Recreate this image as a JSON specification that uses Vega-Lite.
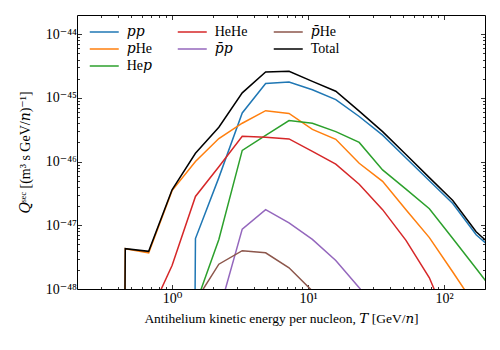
{
  "$schema": "https://vega.github.io/schema/vega-lite/v6.json",
  "width": 408,
  "height": 274,
  "autosize": {"type": "none"},
  "padding": {"left": 77, "top": 15, "right": 15, "bottom": 61},
  "background": "white",
  "config": {
    "font": "Liberation Serif, DejaVu Serif",
    "view": {"stroke": "black", "strokeWidth": 1},
    "axis": {"grid": false, "domain": false, "tickColor": "black", "tickWidth": 0.8, "labelColor": "black", "titleColor": "black", "labelFont": "Liberation Serif, DejaVu Serif", "titleFont": "Liberation Serif, DejaVu Serif", "titleFontWeight": "normal", "labelFontSize": 14, "titleFontSize": 13.5}
  },
  "data": {"values": [
    {"T": 1, "Q": 1e-100, "c": "pp"},
    {"T": 1.486, "Q": 6.2e-48, "c": "pp"},
    {"T": 2.208, "Q": 5.6e-47, "c": "pp"},
    {"T": 3.281, "Q": 5.8e-46, "c": "pp"},
    {"T": 4.875, "Q": 1.68e-45, "c": "pp"},
    {"T": 7.244, "Q": 1.78e-45, "c": "pp"},
    {"T": 10.76, "Q": 1.34e-45, "c": "pp"},
    {"T": 15.99, "Q": 9.4e-46, "c": "pp"},
    {"T": 23.77, "Q": 5.1e-46, "c": "pp"},
    {"T": 35.32, "Q": 2.6e-46, "c": "pp"},
    {"T": 52.48, "Q": 1.14e-46, "c": "pp"},
    {"T": 77.98, "Q": 5.0e-47, "c": "pp"},
    {"T": 115.9, "Q": 2.2e-47, "c": "pp"},
    {"T": 172.2, "Q": 7.1e-48, "c": "pp"},
    {"T": 255.9, "Q": 3.4e-48, "c": "pp"},

    {"T": 0.3048, "Q": 1e-100, "c": "pHe"},
    {"T": 0.4529, "Q": 4.3e-48, "c": "pHe"},
    {"T": 0.673, "Q": 3.7e-48, "c": "pHe"},
    {"T": 1, "Q": 3.5e-47, "c": "pHe"},
    {"T": 1.486, "Q": 1.0e-46, "c": "pHe"},
    {"T": 2.208, "Q": 2.3e-46, "c": "pHe"},
    {"T": 3.281, "Q": 4.0e-46, "c": "pHe"},
    {"T": 4.875, "Q": 6.3e-46, "c": "pHe"},
    {"T": 7.244, "Q": 5.7e-46, "c": "pHe"},
    {"T": 10.76, "Q": 3.2e-46, "c": "pHe"},
    {"T": 15.99, "Q": 2.24e-46, "c": "pHe"},
    {"T": 23.77, "Q": 9.4e-47, "c": "pHe"},
    {"T": 35.32, "Q": 4.9e-47, "c": "pHe"},
    {"T": 52.48, "Q": 1.76e-47, "c": "pHe"},
    {"T": 77.98, "Q": 6.4e-48, "c": "pHe"},
    {"T": 115.9, "Q": 1.85e-48, "c": "pHe"},
    {"T": 172.2, "Q": 5.2e-49, "c": "pHe"},
    {"T": 255.9, "Q": 1.5e-49, "c": "pHe"},

    {"T": 1.486, "Q": 5.6e-49, "c": "Hep"},
    {"T": 2.208, "Q": 6.0e-48, "c": "Hep"},
    {"T": 3.281, "Q": 1.5e-46, "c": "Hep"},
    {"T": 4.875, "Q": 2.57e-46, "c": "Hep"},
    {"T": 7.244, "Q": 4.4e-46, "c": "Hep"},
    {"T": 10.76, "Q": 4.0e-46, "c": "Hep"},
    {"T": 15.99, "Q": 2.95e-46, "c": "Hep"},
    {"T": 23.77, "Q": 2.0e-46, "c": "Hep"},
    {"T": 35.32, "Q": 7.4e-47, "c": "Hep"},
    {"T": 52.48, "Q": 3.7e-47, "c": "Hep"},
    {"T": 77.98, "Q": 1.82e-47, "c": "Hep"},
    {"T": 115.9, "Q": 6.2e-48, "c": "Hep"},
    {"T": 172.2, "Q": 2.1e-48, "c": "Hep"},
    {"T": 255.9, "Q": 7e-49, "c": "Hep"},

    {"T": 0.673, "Q": 3.7e-49, "c": "HeHe"},
    {"T": 1, "Q": 2.34e-48, "c": "HeHe"},
    {"T": 1.486, "Q": 2.84e-47, "c": "HeHe"},
    {"T": 2.208, "Q": 8.3e-47, "c": "HeHe"},
    {"T": 3.281, "Q": 2.5e-46, "c": "HeHe"},
    {"T": 4.875, "Q": 2.4e-46, "c": "HeHe"},
    {"T": 7.244, "Q": 2.27e-46, "c": "HeHe"},
    {"T": 10.76, "Q": 1.45e-46, "c": "HeHe"},
    {"T": 15.99, "Q": 9.1e-47, "c": "HeHe"},
    {"T": 23.77, "Q": 4.4e-47, "c": "HeHe"},
    {"T": 35.32, "Q": 1.76e-47, "c": "HeHe"},
    {"T": 52.48, "Q": 5.8e-48, "c": "HeHe"},
    {"T": 77.98, "Q": 1.5e-48, "c": "HeHe"},
    {"T": 115.9, "Q": 2e-49, "c": "HeHe"},

    {"T": 2.208, "Q": 4.3e-49, "c": "pbar-p"},
    {"T": 3.281, "Q": 8.7e-48, "c": "pbar-p"},
    {"T": 4.875, "Q": 1.76e-47, "c": "pbar-p"},
    {"T": 7.244, "Q": 1.09e-47, "c": "pbar-p"},
    {"T": 10.76, "Q": 6.0e-48, "c": "pbar-p"},
    {"T": 15.99, "Q": 2.8e-48, "c": "pbar-p"},
    {"T": 23.77, "Q": 1.05e-48, "c": "pbar-p"},
    {"T": 35.32, "Q": 3.6e-49, "c": "pbar-p"},

    {"T": 1.486, "Q": 6.4e-49, "c": "pbar-He"},
    {"T": 2.208, "Q": 2.45e-48, "c": "pbar-He"},
    {"T": 3.281, "Q": 4.0e-48, "c": "pbar-He"},
    {"T": 4.875, "Q": 3.7e-48, "c": "pbar-He"},
    {"T": 7.244, "Q": 2.15e-48, "c": "pbar-He"},
    {"T": 10.76, "Q": 9.3e-49, "c": "pbar-He"},
    {"T": 15.99, "Q": 3.4e-49, "c": "pbar-He"},

    {"T": 0.3048, "Q": 1e-100, "c": "Total"},
    {"T": 0.4529, "Q": 4.3e-48, "c": "Total"},
    {"T": 0.673, "Q": 3.9e-48, "c": "Total"},
    {"T": 1, "Q": 3.6e-47, "c": "Total"},
    {"T": 1.486, "Q": 1.35e-46, "c": "Total"},
    {"T": 2.208, "Q": 3.46e-46, "c": "Total"},
    {"T": 3.281, "Q": 1.2e-45, "c": "Total"},
    {"T": 4.875, "Q": 2.55e-45, "c": "Total"},
    {"T": 7.244, "Q": 2.61e-45, "c": "Total"},
    {"T": 10.76, "Q": 1.82e-45, "c": "Total"},
    {"T": 15.99, "Q": 1.27e-45, "c": "Total"},
    {"T": 23.77, "Q": 6.2e-46, "c": "Total"},
    {"T": 35.32, "Q": 2.95e-46, "c": "Total"},
    {"T": 52.48, "Q": 1.29e-46, "c": "Total"},
    {"T": 77.98, "Q": 5.6e-47, "c": "Total"},
    {"T": 115.9, "Q": 2.45e-47, "c": "Total"},
    {"T": 172.2, "Q": 7.9e-48, "c": "Total"},
    {"T": 255.9, "Q": 3.7e-48, "c": "Total"}
  ]},
  "layer": [
    {
      "mark": {"type": "line", "strokeWidth": 1.5, "clip": true},
      "encoding": {
        "x": {"field": "T", "type": "quantitative",
          "scale": {"type": "log", "domain": [0.2, 200], "nice": false},
          "axis": {"orient": "bottom", "values": [1, 10, 100], "tickSize": -4.5, "labelPadding": 7, "labelFlush": false,
            "labelExpr": "datum.value < 5 ? '10⁰' : datum.value < 50 ? '10¹' : '10²'",
            "title": "Antihelium kinetic energy per nucleon, 𝑇 [GeV/𝑛]", "titlePadding": 6}},
        "y": {"field": "Q", "type": "quantitative",
          "scale": {"type": "log", "domain": [1e-48, 2e-44], "nice": false},
          "axis": {"orient": "left", "values": [1e-48, 1e-47, 1e-46, 1e-45, 1e-44], "tickSize": -4.5, "labelPadding": 5, "labelFlush": false,
            "labelExpr": "datum.value < 5e-48 ? '10⁻⁴⁸' : datum.value < 5e-47 ? '10⁻⁴⁷' : datum.value < 5e-46 ? '10⁻⁴⁶' : datum.value < 5e-45 ? '10⁻⁴⁵' : '10⁻⁴⁴'",
            "title": "𝑄ˢᵉᶜ [(m³ s GeV/𝑛)⁻¹]", "titleFontSize": 14, "titlePadding": 13}},
        "color": {"field": "c", "type": "nominal",
          "scale": {"domain": ["pp", "pHe", "Total", "HeHe", "pbar-p", "Hep", "pbar-He"],
                    "range": ["#1f77b4", "#ff7f0e", "#000000", "#d62728", "#9467bd", "#2ca02c", "#8c564b"]},
          "legend": {"orient": "none", "legendX": 19.25, "legendY": 9, "columns": 3, "columnPadding": 22, "rowPadding": 2,
            "title": null, "symbolType": "M-2,0H2", "symbolSize": 210.25, "symbolStrokeWidth": 1.5, "padding": 0,
            "labelFontSize": 14, "labelFont": "Liberation Serif, DejaVu Serif", "labelColor": "black", "labelOffset": 14.5, "labelLimit": 200, "gridAlign": "each",
            "labelExpr": "datum.label == 'pp' ? '𝑝𝑝' : datum.label == 'pHe' ? '𝑝He' : datum.label == 'Hep' ? 'He𝑝' : datum.label == 'pbar-p' ? '𝑝̄𝑝' : datum.label == 'pbar-He' ? '𝑝̄He' : datum.label"}}
      }
    },
    {
      "mark": {"type": "point", "opacity": 0, "clip": true},
      "encoding": {
        "x": {"field": "T", "type": "quantitative",
          "scale": {"type": "log", "domain": [0.2, 200], "nice": false},
          "axis": {"orient": "bottom", "values": [0.3, 0.4, 0.5, 0.6, 0.7, 0.8, 0.9, 2, 3, 4, 5, 6, 7, 8, 9, 20, 30, 40, 50, 60, 70, 80, 90], "tickSize": -2.5, "labels": false, "title": null}},
        "y": {"field": "Q", "type": "quantitative",
          "scale": {"type": "log", "domain": [1e-48, 2e-44], "nice": false},
          "axis": {"orient": "left", "values": [2e-48, 3e-48, 4e-48, 5e-48, 6e-48, 7e-48, 8e-48, 9e-48, 2e-47, 3e-47, 4e-47, 5e-47, 6e-47, 7e-47, 8e-47, 9e-47, 2e-46, 3e-46, 4e-46, 5e-46, 6e-46, 7e-46, 8e-46, 9e-46, 2e-45, 3e-45, 4e-45, 5e-45, 6e-45, 7e-45, 8e-45, 9e-45], "tickSize": -2.5, "labels": false, "title": null}}
      }
    },
    {
      "mark": {"type": "point", "opacity": 0, "clip": true},
      "encoding": {
        "x": {"field": "T", "type": "quantitative",
          "scale": {"type": "log", "domain": [0.2, 200], "nice": false},
          "axis": {"orient": "top", "values": [1, 10, 100], "tickSize": -4.5, "labels": false, "title": null}},
        "y": {"field": "Q", "type": "quantitative",
          "scale": {"type": "log", "domain": [1e-48, 2e-44], "nice": false},
          "axis": {"orient": "right", "values": [1e-48, 1e-47, 1e-46, 1e-45, 1e-44], "tickSize": -4.5, "labels": false, "title": null}}
      }
    },
    {
      "mark": {"type": "point", "opacity": 0, "clip": true},
      "encoding": {
        "x": {"field": "T", "type": "quantitative",
          "scale": {"type": "log", "domain": [0.2, 200], "nice": false},
          "axis": {"orient": "top", "values": [0.3, 0.4, 0.5, 0.6, 0.7, 0.8, 0.9, 2, 3, 4, 5, 6, 7, 8, 9, 20, 30, 40, 50, 60, 70, 80, 90], "tickSize": -2.5, "labels": false, "title": null}},
        "y": {"field": "Q", "type": "quantitative",
          "scale": {"type": "log", "domain": [1e-48, 2e-44], "nice": false},
          "axis": {"orient": "right", "values": [2e-48, 3e-48, 4e-48, 5e-48, 6e-48, 7e-48, 8e-48, 9e-48, 2e-47, 3e-47, 4e-47, 5e-47, 6e-47, 7e-47, 8e-47, 9e-47, 2e-46, 3e-46, 4e-46, 5e-46, 6e-46, 7e-46, 8e-46, 9e-46, 2e-45, 3e-45, 4e-45, 5e-45, 6e-45, 7e-45, 8e-45, 9e-45], "tickSize": -2.5, "labels": false, "title": null}}
      }
    }
  ],
  "resolve": {"scale": {"x": "independent", "y": "independent"}, "axis": {"x": "independent", "y": "independent"}}
}
